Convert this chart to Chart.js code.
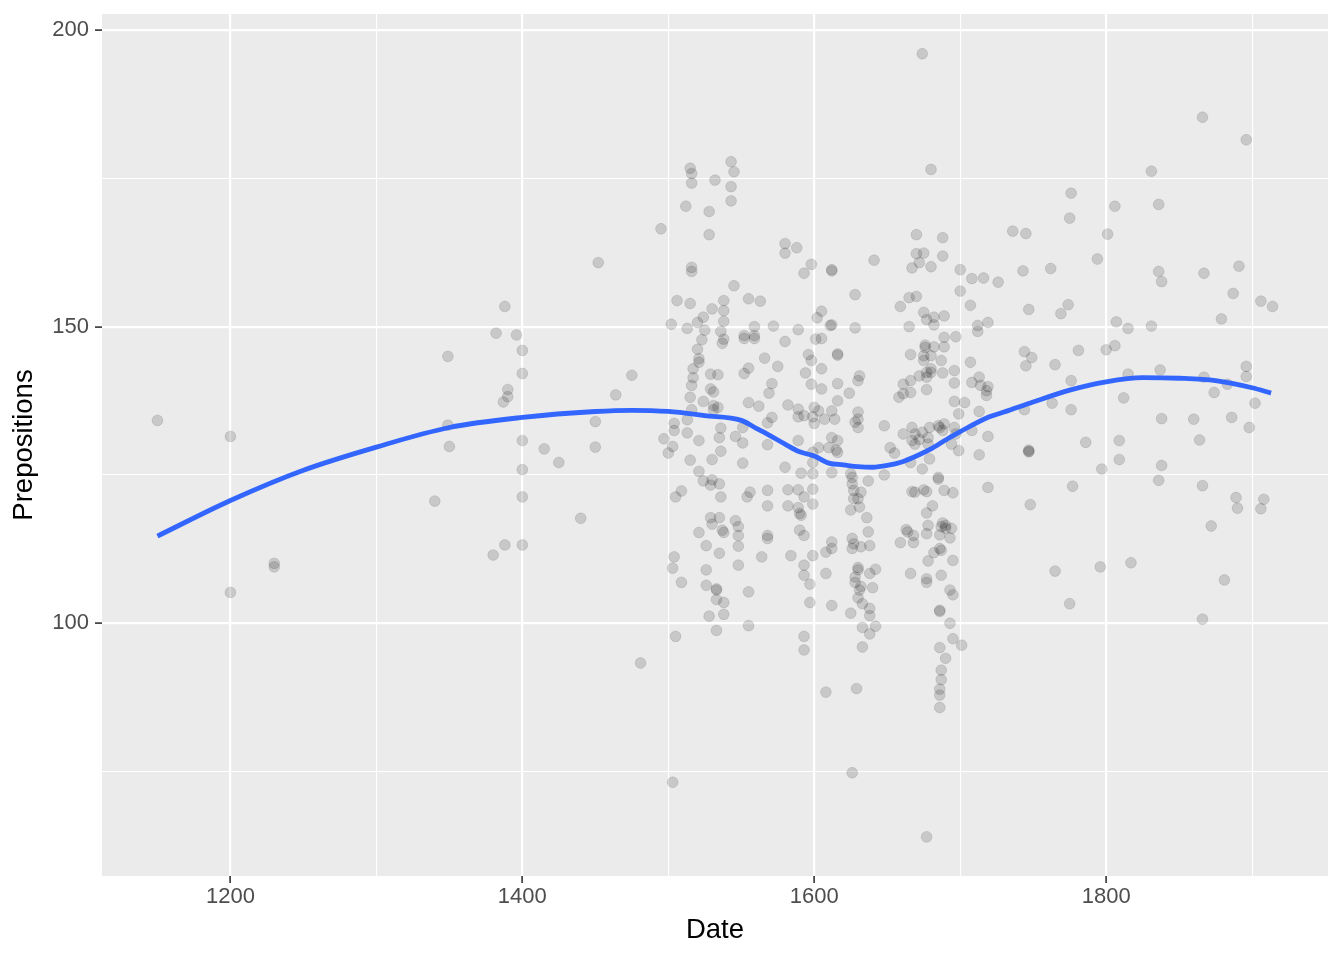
<!DOCTYPE html>
<html>
<head>
<meta charset="utf-8">
<script src="https://cdn.jsdelivr.net/npm/chart.js@4.4.1/dist/chart.umd.min.js"></script>
<style>
html,body{margin:0;padding:0;background:#fff;}
canvas{display:block;}
</style>
</head>
<body>
<canvas id="c" width="1344" height="960"></canvas>
<script>
const dates = [
1150,1200,1200,1230,1230,1340,1349,1349,1350,1380,1382,1388,1387,1390,1390,1388,1396,1400,1400,1400,1400,1400,1400,1415,1425,1440,1450,1450,1452,1464,1475,1481,1495,1497,1500,1502,1503,1506,
1515,1516,1516,1532,1543,1545,1543,1543,1512,1528,1528,1580,1580,1588,1598,1593,1516,1516,1545,1515,1538,1555,1563,1530,1538,1524,1520,1538,1513,1525,1536,1559,1572,1589,1523,1538,1537,1552,1552,1559,1559,1580,1601,1520,1521,1521,1517,1566,1575,1555,1552,1529,1534,1517,1516,1596,1598,1594,1571,1598,
1529,1531,1515,1524,1531,1534,1531,1516,1504,1504,1513,1513,1503,1521,1536,1535,1536,1530,1515,1521,1524,1530,1529,1535,1505,1509,1536,1555,1562,1569,1571,1568,1551,1546,1551,1568,1551,1580,1582,1589,1593,1589,1599,1600,1589,1599,1591,1599,1556,1554,1568,1582,1589,1593,1599,1599,1568,1582,1589,1590,1591,1529,1535,1530,1537,1538,1521,1546,1548,1548,1568,1568,1590,1593,1526,1548,1535,1504,1503,1526,1548,1564,1584,1599,1593,1593,1509,1526,1597,1533,1533,1533,1538,1538,1555,1528,1597,1533,1555,1505,1593,1593,
1674,1680,1670,1688,1670,1675,1688,1672,1667,1680,1700,1708,1716,1726,1612,1612,1641,1628,1665,1670,1659,1700,1707,1605,1602,1611,1612,1628,1675,1682,1677,1682,1689,1665,1719,1712,1712,1605,1689,1697,
1676,1676,1689,1682,1616,1616,1666,1675,1675,1680,1687,1707,1605,1631,1630,1680,1680,1677,1672,1677,1688,1696,1696,1666,1661,1666,1661,1658,1677,1708,1713,1714,1719,1718,1718,1616,1605,1624,1616,1600,1603,1607,1612,1614,1630,1630,1628,1630,1648,1661,1667,1669,1667,1672,1669,1674,1678,1678,1679,1686,1689,1688,1685,1696,1697,1694,1699,1708,1719,1713,1679,1652,1655,1666,1674,1612,1616,1610,1615,1616,1603,1599,1612,1625,1626,1637,1648,1626,1627,1632,1630,1627,1631,1625,1636,1667,1675,1677,1669,1685,1685,1689,1695,1719,1681,1677,1688,1690,1687,1690,1694,1678,1677,1686,1693,1663,1664,1668,1659,1668,1637,1626,1627,1626,1632,1638,1612,1612,1608,1686,1687,1682,1695,1678,1608,1630,1630,1642,1638,1628,1666,1687,1677,1703,1696,1713,1699,
1628,1632,1631,1640,1630,1633,1638,1638,1625,1612,1633,1638,1642,1633,1608,1629,1626,1677,1693,1695,1686,1686,1693,1695,1701,1686,1690,1687,1687,1686,1686,1686,1677,
1776,1806,1775,1736,1745,1801,1794,1743,1762,1747,1774,1769,1807,1815,1744,1749,1745,1765,1781,1800,1806,1815,1776,
1812,1763,1744,1776,1786,1809,1747,1747,1747,1809,1797,1777,1748,1765,1796,1817,1775,
1866,1896,1831,1836,1836,1838,1867,1891,1887,1906,1914,1879,1831,1837,1896,1896,1867,
1883,1874,1902,1838,1860,1886,1898,1864,1838,1836,1866,1889,1890,1908,1906,1872,1881,1866
];
const prepositions = [
134.2,131.5,105.2,110.1,109.5,120.6,145.0,133.4,129.8,111.5,148.9,153.4,137.3,139.4,138.2,113.2,148.6,146.0,142.1,130.8,125.9,121.3,113.2,129.4,127.1,117.7,129.7,134.0,160.8,138.5,141.8,93.3,166.5,131.1,128.7,150.4,73.2,154.4,
176.7,175.8,174.2,174.7,177.8,176.1,173.6,171.2,170.3,169.4,165.5,164.0,162.4,163.3,160.5,159.0,160.0,159.3,156.9,153.9,154.4,154.7,154.3,153.0,152.7,151.6,150.7,150.9,149.7,149.4,149.2,150.0,150.1,149.5,147.8,147.9,147.2,148.5,148.0,148.5,148.0,147.5,147.9,146.2,144.6,144.0,142.9,144.7,143.3,143.0,142.1,142.0,141.9,141.4,140.1,145.3,144.3,142.2,140.4,140.3,
139.5,139.0,138.1,137.4,136.7,136.4,136.0,136.0,133.7,132.5,134.3,132.1,129.8,130.8,132.9,131.3,129.0,127.6,127.5,125.6,124.0,124.2,123.3,123.5,121.3,122.3,121.3,137.2,136.6,138.8,134.7,133.8,133.0,131.5,130.4,130.1,127.0,126.3,136.8,136.1,135.0,134.8,134.8,133.7,130.8,128.8,125.3,125.2,122.1,121.3,122.4,122.5,122.5,121.3,122.6,120.1,119.8,119.8,119.5,118.5,118.2,117.8,117.8,116.7,115.7,115.3,115.3,117.3,116.3,114.8,114.8,114.3,115.7,114.8,113.1,113.0,111.8,111.2,109.3,109.0,109.8,111.2,111.4,111.4,109.8,108.1,106.9,106.4,106.6,105.8,105.6,104.0,103.5,101.5,105.3,101.2,103.5,98.8,99.6,97.8,97.8,95.5,
196.0,176.5,165.5,165.0,162.3,162.4,161.9,160.8,159.9,160.1,159.6,158.1,158.2,157.5,159.6,159.4,161.2,155.4,154.9,155.1,153.4,156.0,153.6,152.6,151.5,150.2,150.3,149.8,152.4,151.6,151.2,150.3,151.8,150.0,150.7,150.2,149.2,148.0,148.2,148.3,
146.9,146.5,146.6,146.6,145.4,145.2,145.3,145.1,144.3,145.1,144.3,144.0,142.9,141.7,140.9,142.9,142.3,142.3,141.7,141.5,142.2,142.6,140.5,140.9,140.3,138.9,138.7,138.1,139.4,140.6,141.5,140.1,139.9,139.2,138.4,140.4,139.5,138.8,137.5,136.4,135.8,134.4,135.8,134.4,135.6,134.4,133.9,133.0,133.3,131.9,133.0,131.9,130.8,131.0,130.2,132.2,131.3,130.2,133.0,133.0,133.6,132.5,133.3,133.0,131.9,130.2,129.1,132.5,131.5,128.4,127.7,129.6,128.7,127.1,126.0,131.3,130.8,129.6,129.2,128.8,129.6,127.1,125.4,125.2,124.6,124.0,125.0,123.5,122.4,122.1,121.0,121.0,119.6,119.1,117.8,122.2,122.5,122.2,122.1,124.6,124.3,122.4,122.0,122.9,119.8,118.6,116.9,116.5,116.3,116.0,116.0,116.5,115.1,114.9,114.4,115.8,115.4,114.8,113.6,113.6,115.4,114.3,113.4,112.6,112.9,113.1,113.7,112.6,112.0,112.6,112.3,111.9,110.6,110.5,108.4,109.4,109.0,109.1,108.4,107.8,108.4,108.1,107.5,137.2,137.4,135.7,135.3,
106.9,106.2,105.6,106.0,104.3,103.3,102.5,101.3,101.7,103.0,99.3,98.2,99.5,96.0,88.4,89.0,74.8,106.9,105.6,104.8,102.2,102.0,100.0,97.4,96.3,95.9,94.1,92.1,90.5,88.9,87.9,85.8,64.0,
172.5,170.3,168.3,166.1,165.7,165.6,161.4,159.4,159.8,152.9,153.7,152.2,150.8,149.7,145.8,144.8,143.4,143.6,146.0,146.1,146.8,142.0,140.9,
138.0,137.1,136.0,136.0,130.5,130.8,129.2,129.0,128.9,127.6,126.0,123.1,120.0,108.8,109.5,110.2,103.3,
185.3,181.5,176.2,170.6,159.3,157.6,159.0,160.2,155.6,154.3,153.4,151.3,150.1,142.7,143.3,141.6,141.5,
140.3,138.9,137.1,134.5,134.4,134.7,133.0,130.9,126.6,124.1,123.2,121.2,119.4,120.9,119.3,116.4,107.3,100.7
];
const smoothDates = [1150,1200,1250,1300,1350,1400,1450,1475,1500,1525,1550,1560,1570,1580,1590,1600,1610,1620,1630,1640,1650,1660,1670,1680,1690,1700,1720,1730,1750,1775,1800,1825,1850,1875,1900,1913];
const smoothValues = [114.7,120.7,125.8,129.7,133.0,134.7,135.7,135.9,135.7,135.0,134.2,132.9,131.6,130.2,128.9,128.2,127.0,126.7,126.4,126.3,126.6,127.2,128.2,129.4,130.9,132.3,134.8,135.6,137.3,139.3,140.7,141.4,141.3,140.9,139.7,138.8];
const xTicks = [1200,1300,1400,1500,1600,1700,1800,1900];
const xLabelTicks = [1200,1400,1600,1800];
const yTicks = [75,100,125,150,175,200];
const yLabelTicks = [100,150,200];

const scatterData = dates.map((d,i)=>({x:d,y:prepositions[i]}));
const smoothData = smoothDates.map((d,i)=>({x:d,y:smoothValues[i]}));

const panelBg = {
  id:'panelBg',
  beforeDraw(chart){
    const {ctx, chartArea:a} = chart;
    ctx.save();
    ctx.fillStyle = '#EBEBEB';
    ctx.fillRect(a.left, a.top, a.right-a.left, a.bottom-a.top);
    ctx.restore();
  }
};

function gridOpts(labelSet){
  return {
    color:'#FFFFFF',
    lineWidth:(c)=> (c.tick && labelSet.includes(c.tick.value)) ? 2.2 : 1.1,
    tickColor:(c)=> (c.tick && labelSet.includes(c.tick.value)) ? '#333333' : 'rgba(0,0,0,0)',
    tickWidth:1.6,
    tickLength:7,
    drawTicks:true
  };
}
const FONT = '"Liberation Sans", Arial, Helvetica, sans-serif';

new Chart(document.getElementById('c'), {
  type:'scatter',
  data:{
    datasets:[
      {type:'line', data:smoothData, borderColor:'#3366FF', borderWidth:4.8, pointRadius:0, fill:false, tension:0.4, cubicInterpolationMode:'monotone'},
      {type:'scatter', data:scatterData, backgroundColor:'rgba(0,0,0,0.15)', borderColor:'rgba(0,0,0,0.10)', borderWidth:1, pointRadius:5.4}
    ]
  },
  options:{
    responsive:false,
    animation:false,
    layout:{padding:{top:14,right:16,left:0,bottom:0}},
    plugins:{legend:{display:false}, tooltip:{enabled:false}},
    scales:{
      x:{
        type:'linear', min:1112, max:1952,
        afterBuildTicks:(s)=>{ s.ticks = xTicks.map(v=>({value:v})); },
        afterFit:(s)=>{ s.height = 84; s.paddingLeft = 0; s.paddingRight = 0; },
        grid:gridOpts(xLabelTicks),
        border:{display:false},
        ticks:{
          callback:(v)=> xLabelTicks.includes(v) ? String(v) : '',
          color:'#4D4D4D', font:{family:FONT, size:22}, padding:1, maxRotation:0, autoSkip:false
        },
        title:{display:true, text:'Date', color:'#000000', font:{family:FONT, size:27.5}, padding:{bottom:13, top:0}}
      },
      y:{
        type:'linear', min:57.4, max:202.7,
        afterBuildTicks:(s)=>{ s.ticks = yTicks.map(v=>({value:v})); },
        afterFit:(s)=>{ s.width = 102; s.paddingTop = 0; s.paddingBottom = 0; },
        grid:gridOpts(yLabelTicks),
        border:{display:false},
        ticks:{
          callback:(v)=> yLabelTicks.includes(v) ? String(v) : '',
          color:'#4D4D4D', font:{family:FONT, size:22}, padding:6, autoSkip:false
        },
        title:{display:true, text:'Prepositions', color:'#000000', font:{family:FONT, size:27.5}, padding:{top:8, bottom:0}}
      }
    }
  },
  plugins:[panelBg]
});
</script>
</body>
</html>
